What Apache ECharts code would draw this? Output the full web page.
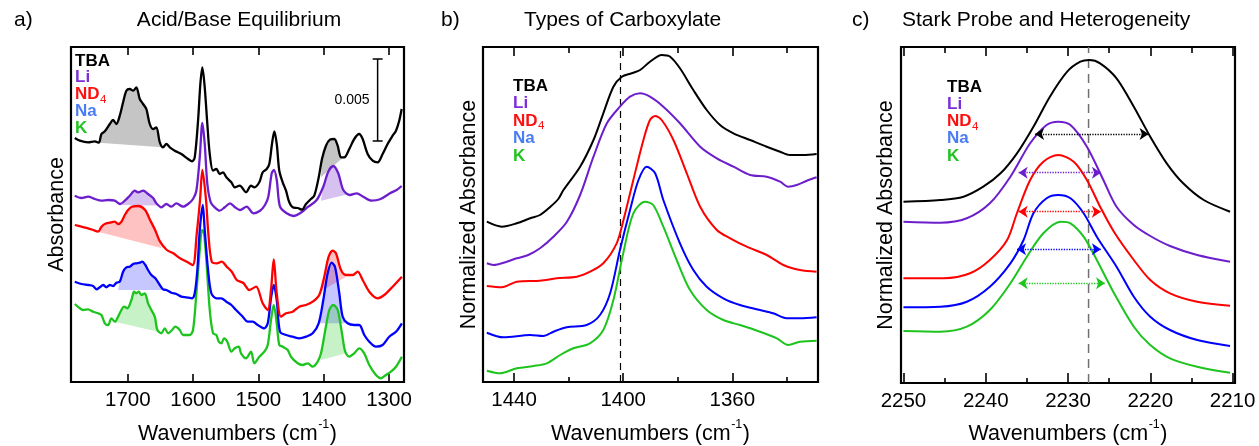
<!DOCTYPE html>
<html><head><meta charset="utf-8">
<script src="https://cdn.jsdelivr.net/npm/echarts@6.0.0/dist/echarts.min.js"></script>
<style>html,body{margin:0;padding:0;background:#fff}#c{width:1259px;height:446px}</style>
</head><body><div id="c"></div>
<script>
// ---------------- DATA ----------------
// Panel a: Acid/Base Equilibrium  [wavenumber, absorbance (arb., offset)]
const a_TBA = [[1781.2,244],[1773.5,241.3],[1760.8,239.7],[1750.5,240.7],[1744.4,239.3],[1740.4,248],[1735.2,250.7],[1727.6,258],[1722.5,262],[1717.5,258],[1712.3,266.3],[1707.2,279.7],[1702.2,291.3],[1697,293],[1691.9,291.3],[1686.9,294.7],[1681.7,283],[1676.6,278],[1671.6,273],[1666.4,258],[1661.3,253],[1656.3,254.7],[1651,239.7],[1646,234.7],[1640.9,238],[1635.7,234.7],[1628.1,231.3],[1618,228],[1607.7,223],[1601.6,220.7],[1597.5,224.7],[1592.4,261.3],[1588.9,298],[1585.8,314.7],[1582.2,294.7],[1578.2,258],[1574.5,228],[1569.5,211.3],[1564.4,213],[1559.2,208],[1554.2,209.7],[1549.1,204.7],[1541.4,199.7],[1536.2,194.7],[1528.6,196.3],[1518.9,189.7],[1511.3,196.3],[1506.2,194.7],[1498.6,199.7],[1493.4,209.7],[1487.3,213],[1483.3,218],[1479.2,238],[1475.6,250.7],[1471.9,238],[1468,211.3],[1462.8,199.7],[1457.7,191.3],[1452.7,179.7],[1447.5,174.7],[1439.8,174],[1433.2,172.3],[1427.1,178],[1419.5,183],[1414.4,186.3],[1407.6,204.7],[1402.6,223],[1396.5,236.3],[1390.4,242.3],[1383.8,243],[1378.6,236.3],[1373.5,224.7],[1368.5,224.7],[1360.8,233],[1353.2,243],[1345.7,248],[1340.3,243],[1332.7,228],[1325,221.3],[1317.4,219.7],[1309.7,228],[1302.1,238],[1294.4,246.3],[1289.3,251.3],[1284.3,261.3],[1280.6,273]];
const a_Li = [[1781.2,186.3],[1771,184],[1760.8,185.3],[1750.5,183],[1740.4,181.3],[1730.2,182],[1719.9,181.3],[1711.8,178],[1704.6,181.3],[1697,186.3],[1689.3,191.3],[1684.3,189.7],[1676.6,191.3],[1669,188],[1661.3,184],[1656.3,178.7],[1648.6,174.7],[1640.9,178],[1633.3,175.3],[1625.6,178.7],[1615.4,175.3],[1607.7,178],[1600.1,183],[1595,191.3],[1589.8,224.7],[1585.8,259],[1582.2,238],[1578.2,198],[1573,179.7],[1566.9,174.7],[1559.2,171.3],[1551.6,174.7],[1543.4,178.7],[1535.8,174.7],[1528.1,172],[1517.9,175.3],[1507.8,168.7],[1497.5,171.3],[1489.9,177],[1484.8,185.3],[1479.6,208.7],[1476.1,212],[1471.9,202],[1466.9,175.3],[1456.6,168.7],[1446.5,166],[1436.3,168.7],[1423.6,175.3],[1410.7,182],[1400.6,195.3],[1393,210.3],[1385.3,216],[1377.7,208.7],[1370,192],[1359.8,187],[1349.5,188.7],[1339.4,185.3],[1326.5,181.3],[1313.8,182.7],[1298.5,188.7],[1288.3,192],[1280.6,196]];
const a_ND4 = [[1781.2,157],[1771,155.3],[1760.8,153.7],[1753.1,152],[1745.5,150.3],[1740.4,155.3],[1735.2,158],[1727.6,159.3],[1719.9,160.3],[1714.9,158],[1709.8,160.3],[1704.6,167],[1699.6,172],[1693.9,175.3],[1683.8,176],[1673.5,172],[1665.9,162],[1658.2,152],[1650.6,140.3],[1640.3,132],[1630.2,128.7],[1620,123.7],[1609.7,120.3],[1600.5,117],[1594.4,148.7],[1589.4,182],[1585.8,212],[1580.2,182],[1576.7,148.7],[1571.5,120.3],[1563.8,118.7],[1556.1,120.3],[1548.5,115.3],[1540.8,110.3],[1533.2,102],[1523.1,99],[1513.9,92],[1503.6,95.3],[1493.4,78.7],[1485.7,72],[1480.7,92],[1476.5,122.7],[1471.9,88.7],[1465.4,65.3],[1457.7,68.7],[1447.5,70.3],[1437.3,75.3],[1427.1,77],[1416.8,80.3],[1406.8,87],[1399.1,105.3],[1392.4,125.3],[1386.2,131.3],[1381.2,128.7],[1373.5,112],[1365.9,107],[1355.6,107],[1348,110.3],[1340.3,102],[1330.2,90.3],[1317.4,83.7],[1307.2,87],[1294.4,95.3],[1280.2,105.3]];
const a_Na = [[1781.2,100.3],[1771,98],[1760.8,97],[1753.1,96],[1748.1,92.7],[1742.9,94.7],[1737.8,97],[1732.8,94.7],[1727.6,97],[1722.5,96],[1717.5,99.3],[1712.3,100.3],[1707.2,110.3],[1702.2,114.7],[1697,115.3],[1691.9,118],[1686.9,118.7],[1681.7,119.3],[1678.1,120.3],[1673.1,117],[1669,112],[1663.9,107],[1657.8,103.7],[1651,97],[1646,92.7],[1640.9,92],[1633.3,89.3],[1625.6,88],[1618,85.3],[1610.3,84.7],[1601.6,83.7],[1597.5,88.7],[1593.5,112],[1589.8,152],[1585.2,177],[1582.2,152],[1577.1,112],[1572.1,88.7],[1564.4,83.7],[1556.8,83.7],[1549.1,80.3],[1541.4,77],[1534.2,72],[1524,65.3],[1516.3,60.3],[1508.7,60.3],[1501,57],[1490.9,53.7],[1485.7,58.7],[1480.7,83.7],[1476.5,97],[1471.9,82],[1466.9,50.3],[1457.7,47],[1447.5,45.3],[1437.3,43.7],[1427.1,45.3],[1416.8,48.7],[1407.7,58.7],[1400.6,82],[1393.9,108.7],[1387.8,119.3],[1382.7,115.3],[1376.1,88.7],[1370.9,65.3],[1363.3,58.7],[1353.2,57],[1345.5,57],[1337.8,47],[1330.2,40.3],[1320,35.3],[1309.7,37],[1299.6,45.3],[1289.3,50.3],[1280.2,58.7]];
const a_K = [[1781.2,78],[1773.5,73.7],[1768.5,72],[1760.8,72.7],[1753.1,70.3],[1745.5,68.7],[1740.4,67],[1735.2,58.7],[1730.2,57],[1725.1,63.7],[1719.9,60.3],[1714.9,65.3],[1709.8,72],[1705.7,75.3],[1700.6,73.7],[1694.5,82],[1690.4,90.3],[1686.9,88.7],[1683.2,90.3],[1679.2,87],[1674,88.7],[1669,78.7],[1663.9,72],[1658.7,65.3],[1654.7,52],[1648.6,48.7],[1643.4,53.7],[1638.3,48.7],[1632.2,52],[1627.2,55.3],[1620.4,52],[1615.4,47],[1605.1,47],[1600.1,52],[1595,88.7],[1589.8,132],[1586.3,152],[1583.3,148.7],[1579.7,122],[1574.5,72],[1569.5,48.7],[1564.4,47],[1560.7,40.3],[1556.7,38.7],[1552.6,43.7],[1547.6,40.3],[1541.4,30.3],[1536.2,33.7],[1530.1,35.3],[1526.6,28.7],[1518.9,23.7],[1511.3,30.3],[1506.2,18.7],[1498.6,25.3],[1490.9,30.3],[1485.7,37],[1480.7,62],[1476.5,77],[1471.9,58.7],[1468,37],[1462.8,35.3],[1455.1,32],[1450.1,25.3],[1439.8,18.7],[1432.2,17],[1424.5,18.7],[1416.8,15.3],[1409.2,20.3],[1404.1,28.7],[1397.5,52],[1391.4,72],[1385.3,77],[1378.6,72],[1372,48.7],[1367,30.3],[1360.8,25.3],[1353.2,28.7],[1345.7,33.7],[1337.9,28.7],[1330.2,17],[1320,7],[1312.3,3.7],[1304.6,7],[1297,10.3],[1289.3,15.3],[1280.2,25.3]];
// shaded bands: [wn start, y start, wn end, y end] of the baseline chord
const aFill_TBA = [[1744.4,239.3,1647.5,234.7],[1404.1,204.7,1370.0,224.7]];
const aFill_Li  = [[1710.3,177.0,1655.2,176.5],[1404.1,181.3,1361.3,188.0]];
const aFill_ND4 = [[1745.5,150.3,1649.0,134.0],[1404.1,91.0,1365.9,105.0]];
const aFill_Na  = [[1714.9,92.0,1643.4,92.0],[1406.8,58.7,1363.3,58.7]];
const aFill_K   = [[1719.9,60.3,1653.6,50.3],[1404.1,22.0,1365.9,28.7]];
const aScaleBar = [[1317.4, 241, 323]]; // wn, y bottom, y top  (0.005 absorbance)
const aScaleLabel = '0.005';
const aTicks = [1700,1600,1500,1400,1300];

// Panel b: Types of Carboxylate  [wavenumber, normalized absorbance (offset)]
const b_TBA = [[1450,160.3],[1444.5,155.3],[1439,158.7],[1434.1,163.7],[1430.5,167],[1426.8,175],[1423.8,183],[1421.9,192],[1415.8,215.3],[1410.9,242],[1407.3,268.7],[1403.6,295.3],[1400.5,305.3],[1396.9,308.7],[1393.8,312],[1390.2,320.3],[1385.9,327],[1382.8,325.3],[1379.2,313.7],[1374.3,292],[1369.4,272],[1364.5,257],[1359.6,248.7],[1353.5,242],[1347.4,235.3],[1342.5,230.3],[1338.9,227],[1334,227],[1329.1,228]];
const b_Li = [[1450,118.7],[1447.6,117],[1442.7,120.3],[1439,123.7],[1434.8,127],[1430.5,133.7],[1425.6,145.3],[1420.7,160],[1415.8,187],[1410.9,225.3],[1406,258.7],[1401.2,275.3],[1397.5,285.3],[1393.8,288.7],[1390.2,285.3],[1385.3,275.3],[1379.2,258.7],[1371.8,235.3],[1365.7,223.7],[1359.6,215.3],[1353.5,207],[1347.4,205.3],[1342.5,200.3],[1339.5,195.3],[1336.4,197],[1332.7,201.3],[1329.1,204.7]];
const b_ND4 = [[1450,96],[1444.5,94.7],[1439,100.3],[1430.5,101.3],[1424.4,103.7],[1417,105.3],[1412.1,110.3],[1407.3,118.7],[1402.4,138.7],[1399.9,162],[1396.3,202],[1392.6,242],[1390.2,262],[1388.3,266],[1385.9,262],[1381.6,242],[1376.7,208.7],[1371.8,175.3],[1365.7,152],[1360.8,143.7],[1354.7,135.3],[1347.4,127],[1341.3,117],[1335.2,112],[1329.1,110.3]];
const b_Na = [[1450,49.3],[1443.9,44.7],[1434.1,47],[1429.3,46],[1425.6,50.3],[1420.7,54.7],[1413.4,57],[1408.5,67],[1404.8,88.7],[1401.2,132],[1397.5,172],[1394.4,202],[1391.4,215.3],[1388.3,208.7],[1385.3,182],[1379.2,138.7],[1374.3,112],[1369.4,95.3],[1363.3,83.7],[1357.2,77],[1349.8,72],[1345,68.7],[1340.1,63.7],[1335.2,63.7],[1329.1,64.7]];
const b_K = [[1450,11.3],[1445.1,8.7],[1439,13.7],[1432.9,16],[1428,18.7],[1423.1,27],[1418.3,33.7],[1412.2,38.7],[1407.3,52],[1403.6,82],[1400,128.7],[1396.3,168.7],[1392,180.3],[1389,177],[1385.3,155.3],[1380.4,122],[1375.5,92],[1369.4,72],[1363.3,62],[1357.2,57],[1349.8,50.3],[1343.7,43.7],[1339.5,37],[1335.2,40.3],[1329.1,41.3]];
const bRef = 1401;
const bTicks = [1440,1400,1360];
const bMinor = [1420,1380,1340];

// Panel c: Stark Probe and Heterogeneity
const c_TBA = [[2250,181.3],[2245.5,183],[2242.7,186.3],[2240.3,196.3],[2238.2,209.7],[2236.2,229.7],[2234.2,256.3],[2232.2,286.3],[2230.1,311.3],[2228.5,321.3],[2227.4,323],[2226.1,319.7],[2224.1,304.7],[2222,276.3],[2220,246.3],[2218,219.7],[2216,199.7],[2213.5,183],[2210.3,171.3]];
const c_Li = [[2250,161.3],[2245.5,160.3],[2242.3,164.7],[2239.5,179.7],[2237,206.3],[2234.6,239.7],[2232.6,258],[2231.2,261.3],[2229.7,258],[2227.7,236.3],[2225.7,203],[2224.1,176.3],[2222,158],[2220,147],[2217.6,137],[2214.3,128],[2210.3,121.3]];
const c_ND4 = [[2250,104.7],[2245.1,104.7],[2241.9,109.7],[2239.5,123],[2237.4,143],[2236.2,170],[2234.6,203],[2233,221.3],[2231.2,228],[2229.3,221.3],[2227.7,203],[2226.1,176.3],[2224.4,151],[2222,123],[2220,103],[2217.6,89.7],[2214.3,81.3],[2210.3,77.3]];
const c_Na = [[2250,75.7],[2245.5,76.3],[2242.3,81.3],[2239.5,96.3],[2237,119.7],[2235.4,143],[2234.2,169.7],[2232.6,184.7],[2231.2,188],[2229.7,184.7],[2228.1,169.7],[2226.5,146.3],[2224.1,116.3],[2222,86.3],[2220,66.3],[2217.6,53],[2214.3,43],[2210.3,37]];
const c_K = [[2250,52],[2245.5,51.3],[2242.3,56.3],[2239.5,73],[2237,99.7],[2235,126.3],[2233,149.7],[2230.9,161.3],[2229.7,159.7],[2228.1,146.3],[2226.5,123],[2224.4,89.7],[2222,56.3],[2220,38],[2217.6,24.7],[2214.3,16.3],[2210.3,10.3]];
// FWHM markers: [wn left, wn right, y]  (TBA, Li, ND4, Na, K)
const cFwhm = [[2234.0,2220.2,249],[2236.0,2226.0,210.3],[2236.0,2226.0,171.3],[2236.2,2226.0,133.7],[2236.0,2225.5,99.7]];
const cRef = 2227.5;
const cTicks = [2250,2240,2230,2220,2210];
const cMinor = [2245,2235,2225,2215];

const labels = ['TBA','Li','ND4','Na','K'];

// ---------------- STYLE ----------------
const FONT = '"Liberation Sans", Arial, Helvetica, sans-serif';
const LINE = ['#000000','#6c1ecc','#ff0000','#0000ff','#1ec41e'];
const TXT  = ['#000000','#7b2fd9','#ff1010','#4a7df3','#22c322'];
const FILL = ['rgba(110,110,110,0.40)','rgba(120,50,210,0.30)','rgba(255,0,0,0.24)','rgba(0,0,255,0.22)','rgba(30,200,30,0.25)'];
const TICK_FS = 20.5, NAME_FS = 21.5, TITLE_FS = 21, LEG_FS = 17;

const mctx = document.createElement('canvas').getContext('2d');
function tw(s, size, weight){ mctx.font = (weight||'normal')+' '+size+'px '+FONT; return mctx.measureText(s).width; }

function txt(s, x, y, size, color, weight, align){
  return {type:'text', x:x, y:y, silent:true, z:50,
    style:{text:s, fill:color||'#000', fontSize:size, fontWeight:weight||'normal', fontFamily:FONT,
      align:align||'left', textAlign:align||'left', verticalAlign:'middle', textVerticalAlign:'middle'}};
}
function legendEls(x, y0, dy){
  const els = [];
  labels.forEach((l,i)=>{
    const y = y0 + i*dy;
    if (l === 'ND4'){
      els.push(txt('ND', x, y, LEG_FS, TXT[i], 'bold'));
      els.push(txt('4', x + tw('ND',LEG_FS,'bold') + 0.5, y + 5, 11.5, TXT[i], 'normal'));
    } else els.push(txt(l, x, y, LEG_FS, TXT[i], 'bold'));
  });
  return els;
}
function xNameEls(cx, y){
  const a='Wavenumbers (cm', s='-1', e=')';
  const w1=tw(a,NAME_FS), w2=tw(s,12.5), w3=tw(e,NAME_FS);
  const x0 = cx - (w1+w2+w3+1)/2;
  return [txt(a,x0,y,NAME_FS), txt(s,x0+w1+0.5,y-9.5,12.5), txt(e,x0+w1+w2+1,y,NAME_FS)];
}

function xAx(g, min, max, pos, ticks, len, showLabel){
  return {type:'value', gridIndex:g, min:min, max:max, inverse:true, position:pos, offset:0,
    axisLine:{show:false}, splitLine:{show:false},
    axisTick:{show:true, inside:true, length:len, customValues:ticks, lineStyle:{color:'#000', width:1.6}},
    axisLabel:{show:showLabel, customValues:ticks, fontSize:TICK_FS, color:'#000', margin:8, fontFamily:FONT,
      formatter:function(v){ return String(v); }}};
}
function yAx(g, max, name, gap){
  return {type:'value', gridIndex:g, min:0, max:max,
    axisLine:{show:false}, axisTick:{show:false}, axisLabel:{show:false}, splitLine:{show:false},
    name:name, nameLocation:'middle', nameGap:gap,
    nameTextStyle:{fontSize:NAME_FS, color:'#000', fontFamily:FONT}};
}
function lineS(data, color, xi, yi, w, extra){
  return Object.assign({type:'line', data:data, xAxisIndex:xi, yAxisIndex:yi, showSymbol:false, symbol:'none',
    smooth:0.3, lineStyle:{color:color, width:w}, itemStyle:{color:color}, z:3, silent:true}, extra||{});
}
function makeFill(curve, color){
  return function(params, api){
    const x0=api.value(0), y0=api.value(1), x1=api.value(2), y1=api.value(3);
    const pts=[api.coord([x0,y0])];
    curve.forEach(p=>{ if(p[0]<x0 && p[0]>x1) pts.push(api.coord(p)); });
    pts.push(api.coord([x1,y1]));
    return {type:'polygon', shape:{points:pts}, style:{fill:color}, silent:true};
  };
}

const aCurves = [a_TBA,a_Li,a_ND4,a_Na,a_K];
const aFills = [aFill_TBA,aFill_Li,aFill_ND4,aFill_Na,aFill_K];
const bCurves = [b_TBA,b_Li,b_ND4,b_Na,b_K];
const cCurves = [c_TBA,c_Li,c_ND4,c_Na,c_K];

const series = [];
aFills.forEach((f,i)=>series.push({type:'custom', xAxisIndex:0, yAxisIndex:0, data:f, encode:{x:[0,2], y:[1,3]},
  renderItem:makeFill(aCurves[i], FILL[i]), z:1, silent:true}));
for (let i=4;i>=0;i--) series.push(lineS(aCurves[i], LINE[i], 0, 0, 2.3));
series.push({type:'custom', xAxisIndex:0, yAxisIndex:0, data:aScaleBar, encode:{x:0, y:[1,2]}, z:5, silent:true,
  renderItem:function(params, api){
    const p0=api.coord([api.value(0), api.value(1)]), p1=api.coord([api.value(0), api.value(2)]);
    const st={stroke:'#000', lineWidth:1.5};
    return {type:'group', children:[
      {type:'line', shape:{x1:p0[0],y1:p0[1],x2:p1[0],y2:p1[1]}, style:st},
      {type:'line', shape:{x1:p0[0]-5,y1:p0[1],x2:p0[0]+5,y2:p0[1]}, style:st},
      {type:'line', shape:{x1:p1[0]-5,y1:p1[1],x2:p1[0]+5,y2:p1[1]}, style:st},
      {type:'text', x:p0[0]-8, y:(p0[1]+p1[1])/2, style:{text:aScaleLabel, fill:'#000', fontSize:14, fontFamily:FONT,
        align:'right', textAlign:'right', verticalAlign:'middle', textVerticalAlign:'middle'}}
    ]};
  }});
series.push(lineS([[bRef,0],[bRef,335]], '#000', 2, 1, 1.2, {smooth:false, lineStyle:{color:'#000', width:1.2, type:[7,5]}, z:2}));
for (let i=4;i>=0;i--) series.push(lineS(bCurves[i], LINE[i], 2, 1, 2));
series.push(lineS([[cRef,0],[cRef,336]], '#707070', 6, 2, 1.5, {smooth:false, lineStyle:{color:'#707070', width:1.5, type:[9,6]}, z:2}));
for (let i=4;i>=0;i--){
  const f = cFwhm[i];
  series.push(lineS(cCurves[i], LINE[i], 6, 2, 2, {markLine:{silent:true, animation:false, symbol:['arrow','arrow'], symbolSize:9,
    label:{show:false}, lineStyle:{type:'dotted', width:1.3, color:LINE[i]},
    data:[[{coord:[f[0],f[2]]},{coord:[f[1],f[2]]}]]}}));
}

function gridBox(left, width, height){
  return {left:left, top:47, width:width, height:height, show:true, borderColor:'#000', borderWidth:2.2,
    backgroundColor:'transparent', containLabel:false, outerBoundsMode:'none'};
}
const option = {
  animation:false,
  textStyle:{fontFamily:FONT},
  grid:[ gridBox(71,333,335), gridBox(483,335,335), gridBox(901,334,336) ],
  xAxis:[
    xAx(0, 1277, 1787, 'bottom', aTicks, 8, true),
    xAx(0, 1277, 1787, 'top', aTicks, 8, false),
    xAx(1, 1328.6, 1451.4, 'bottom', bTicks, 9, true),
    xAx(1, 1328.6, 1451.4, 'bottom', bMinor, 5, false),
    xAx(1, 1328.6, 1451.4, 'top', bTicks, 9, false),
    xAx(1, 1328.6, 1451.4, 'top', bMinor, 6, false),
    xAx(2, 2209.7, 2250.3, 'bottom', cTicks, 10, true),
    xAx(2, 2209.7, 2250.3, 'bottom', cMinor, 5, false),
    xAx(2, 2209.7, 2250.3, 'top', cTicks, 9, false),
    xAx(2, 2209.7, 2250.3, 'top', cMinor, 6, false)
  ],
  yAxis:[
    yAx(0, 335, 'Absorbance', 3),
    yAx(1, 335, 'Normalized Absorbance', 3),
    yAx(2, 336, 'Normalized Absorbance', 4)
  ],
  graphic:[].concat(
    [txt('a)', 14, 20, TITLE_FS), txt('Acid/Base Equilibrium', 239, 20, TITLE_FS, '#000', 'normal', 'center'),
     txt('b)', 441, 20, TITLE_FS), txt('Types of Carboxylate', 524, 20, TITLE_FS, '#000', 'normal', 'left'),
     txt('c)', 852, 20, TITLE_FS), txt('Stark Probe and Heterogeneity', 902, 20, TITLE_FS, '#000', 'normal', 'left')],
    legendEls(75, 61, 16.8), legendEls(513, 86, 17.5), legendEls(947, 87.5, 17.1),
    xNameEls(237.5, 434.5), xNameEls(650.5, 434.5), xNameEls(1068, 434.5)
  ),
  series:series
};
const chart = echarts.init(document.getElementById('c'), null, {renderer:'canvas'});
chart.setOption(option);
</script></body></html>
